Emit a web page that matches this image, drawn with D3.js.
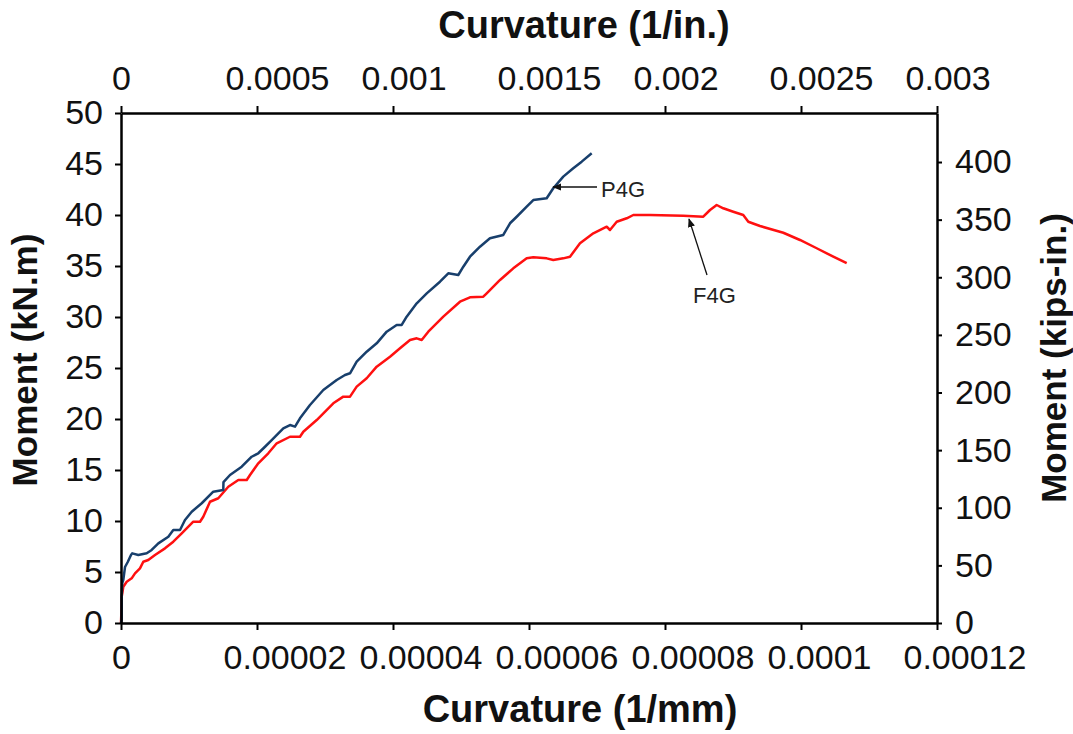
<!DOCTYPE html>
<html>
<head>
<meta charset="utf-8">
<script src="https://cdn.jsdelivr.net/npm/d3@7"></script>
<style>
  html, body { margin: 0; padding: 0; background: #fff; }
  svg { display: block; font-family: "Liberation Sans", Arial, sans-serif; }
</style>
</head>
<body>
<div id="chart"></div>
<script>
const WIDTH  = 1073;
const HEIGHT = 734;

// curvature in 1e-6 /mm, moment in kN.m
const p4gCurv = [0, 0.10, 0.10, 0.19, 0.34, 0.59, 0.99, 1.47, 1.66, 2.54, 3.78, 4.51, 5.49, 6.96, 7.69, 8.68, 9.41, 10.40, 11.87, 13.57, 15.04, 15.07, 16.03, 17.75, 19.22, 20.19, 21.18, 22.16, 23.87, 24.85, 25.59, 26.32, 27.79, 29.75, 31.72, 32.94, 33.68, 34.66, 36.13, 37.60, 39.07, 40.54, 41.28, 42.01, 43.49, 44.96, 46.91, 48.13, 49.60, 50.34, 51.32, 52.79, 54.26, 56.22, 57.21, 58.19, 59.66, 60.63, 62.60, 63.57, 65.04, 66.51, 67.75, 69.22];
const p4gMoment = [0, 0.29, 2.58, 3.92, 4.22, 5.49, 5.98, 6.67, 6.83, 6.67, 6.83, 7.16, 7.81, 8.46, 9.12, 9.12, 10.10, 10.91, 11.74, 12.87, 13.04, 13.82, 14.51, 15.32, 16.30, 16.64, 17.28, 17.94, 19.09, 19.41, 19.25, 20.07, 21.37, 22.84, 23.82, 24.31, 24.48, 25.62, 26.60, 27.42, 28.56, 29.22, 29.22, 30.03, 31.34, 32.32, 33.46, 34.28, 34.12, 34.93, 35.91, 36.89, 37.72, 38.04, 39.19, 39.83, 40.81, 41.47, 41.64, 42.62, 43.76, 44.58, 45.23, 46.05];

const f4gCurv = [0, 0.10, 0.10, 0.34, 0.84, 1.57, 2.06, 2.79, 3.28, 4.01, 5.00, 6.47, 7.69, 8.93, 10.63, 11.62, 12.10, 13.09, 14.31, 15.78, 17.25, 18.49, 18.97, 20.19, 21.66, 22.90, 24.85, 26.32, 26.81, 28.78, 31.22, 32.69, 33.68, 34.66, 36.13, 37.60, 39.56, 41.03, 42.50, 43.49, 44.22, 45.19, 47.40, 49.85, 51.32, 53.28, 53.78, 55.74, 57.69, 59.66, 60.63, 62.60, 63.57, 65.04, 66.03, 67.50, 69.46, 71.43, 71.91, 72.90, 74.37, 75.34, 77.79, 82.69, 85.63, 86.62, 87.60, 88.57, 90.04, 91.51, 92.25, 93.97, 97.40, 99.85, 102.31, 104.75, 106.72];
const f4gMoment = [0, 1.96, 2.58, 3.56, 4.05, 4.38, 4.87, 5.36, 6.01, 6.18, 6.67, 7.32, 7.97, 8.79, 9.93, 9.93, 10.42, 11.89, 12.23, 13.36, 14.02, 14.02, 14.51, 15.66, 16.64, 17.62, 18.26, 18.26, 18.75, 19.90, 21.54, 22.19, 22.19, 23.17, 23.99, 25.13, 26.11, 26.93, 27.75, 27.91, 27.75, 28.56, 30.03, 31.50, 31.93, 31.99, 32.32, 33.63, 34.77, 35.75, 35.85, 35.75, 35.59, 35.75, 35.91, 37.23, 38.21, 38.85, 38.53, 39.34, 39.68, 40.00, 40.00, 39.93, 39.83, 40.49, 40.98, 40.66, 40.32, 40.00, 39.34, 38.92, 38.26, 37.55, 36.74, 35.91, 35.27];

// ticks
const bottomTicks  = [0, 0.00002, 0.00004, 0.00006, 0.00008, 0.0001, 0.00012];
const bottomLabels = ["0", "0.00002", "0.00004", "0.00006", "0.00008", "0.0001", "0.00012"];
const topTicks     = [0, 0.0005, 0.001, 0.0015, 0.002, 0.0025, 0.003];
const topLabels    = ["0", "0.0005", "0.001", "0.0015", "0.002", "0.0025", "0.003"];
const leftTicks    = [0, 5, 10, 15, 20, 25, 30, 35, 40, 45, 50];
const rightTicks   = [0, 50, 100, 150, 200, 250, 300, 350, 400];
const KNM_TO_KIPIN = 8.8507;

const margin = { left: 121, right: WIDTH - 937, top: 113, bottom: HEIGHT - 623 };

const svg = d3.select("#chart")
  .append("svg")
  .attr("width", WIDTH)
  .attr("height", HEIGHT);

const x = d3.scaleLinear().domain([0, 0.00012]).range([margin.left, WIDTH - margin.right]);
const xTop = d3.scaleLinear().domain([0, 0.003]).range([margin.left, WIDTH - margin.right]);
const y = d3.scaleLinear().domain([0, 50]).range([HEIGHT - margin.bottom, margin.top]);
const yRight = d3.scaleLinear().domain([0, 50 * KNM_TO_KIPIN]).range([HEIGHT - margin.bottom, margin.top]);

// arrow head
svg.append("defs").append("marker")
  .attr("id", "arrow")
  .attr("viewBox", "0 0 10 10")
  .attr("refX", 9).attr("refY", 5)
  .attr("markerWidth", 9).attr("markerHeight", 9)
  .attr("markerUnits", "userSpaceOnUse")
  .attr("orient", "auto")
  .append("path")
  .attr("d", "M0,1 L10,5 L0,9 z")
  .attr("fill", "#111");

const line = d3.line()
  .x(d => x(d[0] * 1e-6))
  .y(d => y(d[1]));

const f4g = f4gCurv.map((c, i) => [c, f4gMoment[i]]);
const p4g = p4gCurv.map((c, i) => [c, p4gMoment[i]]);

svg.append("path")
  .attr("d", line(f4g))
  .attr("fill", "none")
  .attr("stroke", "#ff1010")
  .attr("stroke-width", 2.5)
  .attr("stroke-linejoin", "round");

svg.append("path")
  .attr("d", line(p4g))
  .attr("fill", "none")
  .attr("stroke", "#183f6c")
  .attr("stroke-width", 2.5)
  .attr("stroke-linejoin", "round");

// axes
function styleAxis(g) {
  g.select(".domain").attr("stroke", "#000").attr("stroke-width", 2.5);
  g.selectAll(".tick line").attr("stroke", "#000").attr("stroke-width", 2);
  g.selectAll(".tick text")
    .attr("fill", "#111")
    .style("font-size", "34px")
    .style("font-family", "'Liberation Sans', Arial, sans-serif");
}

// long labels sit with their left edge a little before the tick, as in the source
function shiftLabels(g, offset) {
  g.selectAll(".tick text")
    .filter(function() { return this.textContent !== "0"; })
    .attr("text-anchor", "start")
    .attr("x", offset);
}

svg.append("g")
  .attr("transform", `translate(0,${HEIGHT - margin.bottom})`)
  .call(d3.axisBottom(x).tickValues(bottomTicks)
    .tickFormat((d, i) => bottomLabels[i])
    .tickSize(7).tickSizeOuter(0).tickPadding(15))
  .call(styleAxis)
  .call(shiftLabels, -34);

svg.append("g")
  .attr("transform", `translate(0,${margin.top})`)
  .call(d3.axisTop(xTop).tickValues(topTicks)
    .tickFormat((d, i) => topLabels[i])
    .tickSize(7).tickSizeOuter(0).tickPadding(16))
  .call(styleAxis)
  .call(shiftLabels, -32);

svg.append("g")
  .attr("transform", `translate(${margin.left},0)`)
  .call(d3.axisLeft(y).tickValues(leftTicks)
    .tickFormat(d3.format("d"))
    .tickSize(6).tickSizeOuter(0).tickPadding(12))
  .call(styleAxis);

svg.append("g")
  .attr("transform", `translate(${WIDTH - margin.right},0)`)
  .call(d3.axisRight(yRight).tickValues(rightTicks)
    .tickFormat(d3.format("d"))
    .tickSize(5).tickSizeOuter(0).tickPadding(13))
  .call(styleAxis);

// axis titles
const titleStyle = (sel, size) => sel
  .attr("fill", "#111")
  .style("font-size", size + "px")
  .style("font-weight", "bold")
  .attr("text-anchor", "middle");

svg.append("text").attr("x", 580).attr("y", 722)
  .text("Curvature (1/mm)").call(titleStyle, 38);
svg.append("text").attr("x", 584).attr("y", 38)
  .text("Curvature (1/in.)").call(titleStyle, 38);
svg.append("text")
  .attr("transform", "translate(37,360) rotate(-90)")
  .text("Moment (kN.m)").call(titleStyle, 35);
svg.append("text")
  .attr("transform", "translate(1066,358) rotate(-90)")
  .text("Moment (kips-in.)").call(titleStyle, 35);

// annotations
svg.append("line")
  .attr("x1", 597).attr("y1", 187)
  .attr("x2", 553).attr("y2", 187)
  .attr("stroke", "#111").attr("stroke-width", 1.3)
  .attr("marker-end", "url(#arrow)");
svg.append("text").attr("x", 601).attr("y", 197)
  .attr("fill", "#222").style("font-size", "22px")
  .text("P4G");

svg.append("line")
  .attr("x1", 707).attr("y1", 275)
  .attr("x2", 689).attr("y2", 219)
  .attr("stroke", "#111").attr("stroke-width", 1.3)
  .attr("marker-end", "url(#arrow)");
svg.append("text").attr("x", 693).attr("y", 303)
  .attr("fill", "#222").style("font-size", "22px")
  .text("F4G");
</script>
</body>
</html>
